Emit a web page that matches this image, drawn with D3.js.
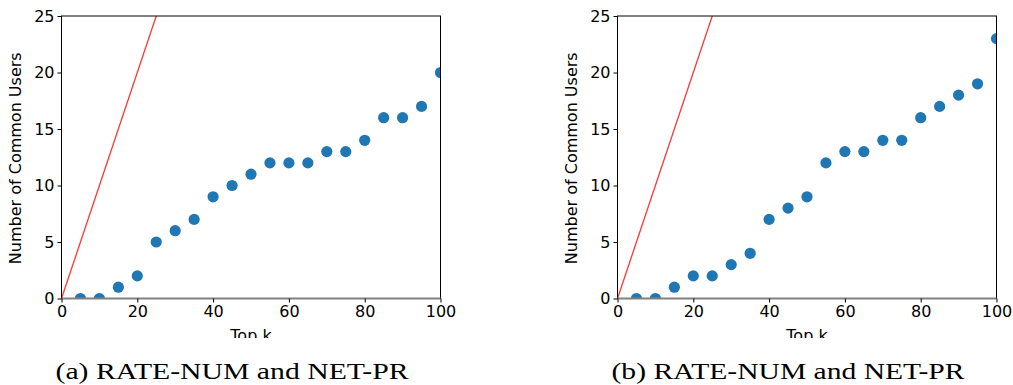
<!DOCTYPE html>
<html>
<head>
<meta charset="utf-8">
<script src="https://cdn.jsdelivr.net/npm/d3@7"></script>
<style>
  body { margin: 0; background: #fff; }
  svg { display: block; }
</style>
</head>
<body>
<svg width="1013" height="385"></svg>
<script>
const topK = [5, 10, 15, 20, 25, 30, 35, 40, 45, 50, 55, 60, 65, 70, 75, 80, 85, 90, 95, 100];
const usersA = [0, 0, 1, 2, 5, 6, 7, 9, 10, 11, 12, 12, 12, 13, 13, 14, 16, 16, 17, 20];
const usersB = [0, 0, 1, 2, 2, 3, 4, 7, 8, 9, 12, 13, 13, 14, 14, 16, 17, 18, 19, 23];
const xTicks = [0, 20, 40, 60, 80, 100];
const yTicks = [0, 5, 10, 15, 20, 25];
const captions = ['(a) RATE-NUM and NET-PR', '(b) RATE-NUM and NET-PR'];

const svg = d3.select('svg');
const plotW = 379;
const plotH = 282.5;
const plotTop = 16;
const panelLefts = [61.5, 617.5];
const captionX = [232, 788];

const x = d3.scaleLinear().domain([0, 100]).range([0, plotW]);
const y = d3.scaleLinear().domain([0, 25]).range([plotH, 0]);

const tickFont = 'DejaVu Sans, sans-serif';

[usersA, usersB].forEach((vals, i) => {
    const g = svg.append('g')
        .attr('transform', `translate(${panelLefts[i]}, ${plotTop})`);

    g.append('clipPath').attr('id', `clip${i}`)
        .append('rect').attr('width', plotW).attr('height', plotH);

    const plot = g.append('g').attr('clip-path', `url(#clip${i})`);

    // reference line y = x
    plot.append('line')
        .attr('x1', x(0)).attr('y1', y(0))
        .attr('x2', x(100)).attr('y2', y(100))
        .attr('stroke', '#ff3535')
        .attr('stroke-width', 1.3);

    plot.selectAll('circle')
        .data(topK)
        .join('circle')
        .attr('cx', d => x(d))
        .attr('cy', (d, j) => y(vals[j]))
        .attr('r', 5.6)
        .attr('fill', '#1f77b4');

    // spines
    g.append('rect')
        .attr('width', plotW).attr('height', plotH)
        .attr('fill', 'none')
        .attr('stroke', '#000')
        .attr('stroke-width', 1);
    g.append('line')
        .attr('x1', 0).attr('x2', plotW)
        .attr('y1', plotH).attr('y2', plotH)
        .attr('stroke', '#808080')
        .attr('stroke-width', 2);

    const xAxis = g.append('g')
        .attr('transform', `translate(0, ${plotH})`)
        .call(d3.axisBottom(x).tickValues(xTicks).tickSize(4).tickPadding(3));
    const yAxis = g.append('g')
        .call(d3.axisLeft(y).tickValues(yTicks).tickSize(4).tickPadding(3));
    [xAxis, yAxis].forEach(a => {
        a.select('.domain').remove();
        a.selectAll('text').attr('font-family', tickFont).attr('font-size', 16).attr('fill', '#000');
    });

    // y label
    g.append('text')
        .attr('transform', `translate(${-41}, ${plotH / 2 + 1}) rotate(-90)`)
        .attr('text-anchor', 'middle')
        .attr('font-family', tickFont)
        .attr('font-size', 16)
        .text('Number of Common Users');

    // x label, cut off at the bottom as in the figure
    g.append('clipPath').attr('id', `xlab${i}`)
        .append('rect').attr('x', 0).attr('y', 0).attr('width', plotW).attr('height', 338 - plotTop);
    g.append('text')
        .attr('clip-path', `url(#xlab${i})`)
        .attr('x', plotW / 2)
        .attr('y', 340.5 - plotTop)
        .attr('text-anchor', 'middle')
        .attr('font-family', tickFont)
        .attr('font-size', 16)
        .text('Top k');

    svg.append('text')
        .attr('x', captionX[i])
        .attr('y', 379)
        .attr('text-anchor', 'middle')
        .attr('font-family', 'Liberation Serif, serif')
        .attr('font-size', 24)
        .attr('textLength', 353)
        .attr('lengthAdjust', 'spacingAndGlyphs')
        .text(captions[i]);
});
</script>
</body>
</html>
